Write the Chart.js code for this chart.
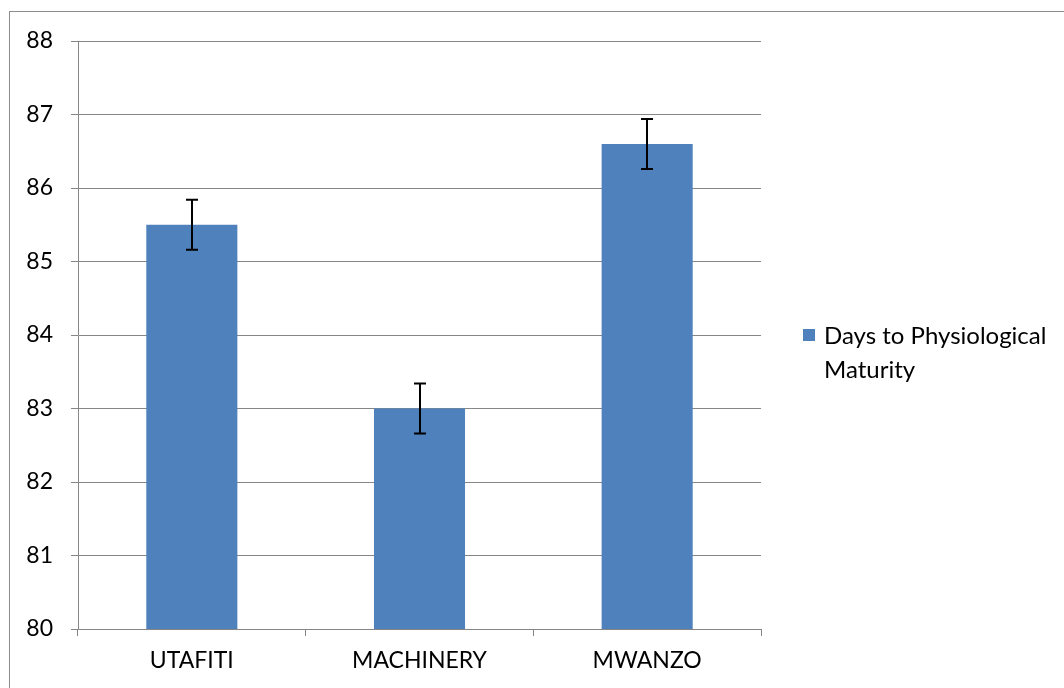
<!DOCTYPE html>
<html>
<head>
<meta charset="utf-8">
<script src="https://cdn.jsdelivr.net/npm/chart.js@4"></script>
<style>
  html, body { margin: 0; padding: 0; background: #fff; overflow: hidden; }
  #wrap { position: relative; width: 1064px; height: 688px; }
  #frame { position: absolute; left: 9px; top: 11px; width: 1100px; height: 700px; border: 1px solid #8c8c8c; }
  canvas { position: absolute; left: 0; top: 0; }
</style>
</head>
<body>
<div id="wrap">
  <div id="frame"></div>
  <canvas id="c" width="1064" height="688"></canvas>
</div>
<script>
var categories = ['UTAFITI', 'MACHINERY', 'MWANZO'];
var seriesLabel = ['Days to Physiological', 'Maturity'];
var days = [85.5, 83.0, 86.6];
var errors = [0.34, 0.34, 0.34];
var yTicks = [80, 81, 82, 83, 84, 85, 86, 87, 88];

var fontFamily = 'Lato, "Liberation Sans", sans-serif';
var gridColor = '#868686';

// error bars on top of the bars
var errorBars = {
  id: 'errorBars',
  afterDatasetsDraw: function (chart) {
    var ctx = chart.ctx;
    var meta = chart.getDatasetMeta(0);
    var yaxis = chart.scales.y;
    ctx.save();
    ctx.strokeStyle = '#000';
    ctx.lineWidth = 2;
    meta.data.forEach(function (bar, i) {
      var top = yaxis.getPixelForValue(days[i] + errors[i]);
      var bottom = yaxis.getPixelForValue(days[i] - errors[i]);
      var x = Math.round(bar.x);
      ctx.beginPath();
      ctx.moveTo(x, top);
      ctx.lineTo(x, bottom);
      ctx.moveTo(x - 6, top);
      ctx.lineTo(x + 6, top);
      ctx.moveTo(x - 6, bottom);
      ctx.lineTo(x + 6, bottom);
      ctx.stroke();
    });
    ctx.restore();
  }
};

// legend with wrapped text on the right
var sideLegend = {
  id: 'sideLegend',
  afterDraw: function (chart) {
    var ctx = chart.ctx;
    ctx.save();
    ctx.fillStyle = '#4f81bd';
    ctx.fillRect(803, 329, 12, 12);
    ctx.fillStyle = '#000';
    ctx.font = '24px ' + fontFamily;
    ctx.textBaseline = 'middle';
    ctx.textAlign = 'left';
    seriesLabel.forEach(function (line, i) {
      ctx.fillText(line, 824, 336 + i * 34);
    });
    ctx.restore();
  }
};

new Chart(document.getElementById('c'), {
  type: 'bar',
  data: {
    labels: categories,
    datasets: [{
      label: seriesLabel.join(' '),
      data: days,
      backgroundColor: '#4f81bd',
      barPercentage: 0.4,
      categoryPercentage: 1.0
    }]
  },
  options: {
    responsive: false,
    animation: false,
    layout: { padding: { top: 41, right: 303, left: 0, bottom: 0 } },
    plugins: {
      legend: { display: false },
      tooltip: { enabled: false }
    },
    scales: {
      x: {
        offset: true,
        afterFit: function (scale) { scale.height = 59; },
        grid: {
          offset: true,
          drawOnChartArea: false,
          drawTicks: true,
          tickLength: 7,
          color: gridColor
        },
        border: { display: true, color: gridColor, width: 1 },
        ticks: { color: '#000', font: { family: fontFamily, size: 23 }, padding: 11 }
      },
      y: {
        min: 80,
        max: 88,
        afterFit: function (scale) { scale.width = 78; },
        afterBuildTicks: function (scale) {
          scale.ticks = yTicks.map(function (v) { return { value: v }; });
        },
        grid: { color: gridColor, tickLength: 7, lineWidth: 1 },
        border: { display: true, color: gridColor, width: 1 },
        ticks: { color: '#000', font: { family: fontFamily, size: 23 }, padding: 18 }
      }
    }
  },
  plugins: [errorBars, sideLegend]
});
</script>
</body>
</html>
